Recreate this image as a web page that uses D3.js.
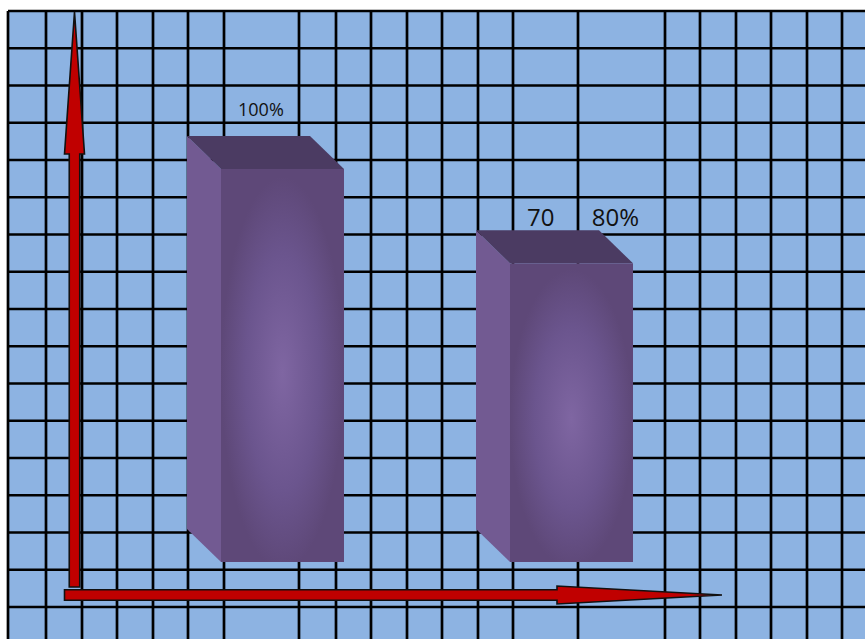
<!DOCTYPE html>
<meta charset="UTF-8">
<style>
body { margin: 0; background: #fff; }
svg { display: block; }
.label { font-family: "Open Sans", sans-serif; fill: #111; white-space: pre; }
</style>
<body>
<script src="https://d3js.org/d3.v7.min.js"></script>
<script>

// chart data
var categories = ["first", "second"];
var values = [100, 76];
var labels = ["100%", "70      80%"];

// label styling (font size and lift above the front top edge)
var labelStyle = [{size: 18, lift: 53}, {size: 24, lift: 37}];

var width = 865, height = 639;

// background grid (decoration only)
var gridLeft = 8, gridTop = 11;
var gridCols = [8, 46, 82, 117, 153, 188, 224, 299, 336, 371, 407, 442, 478, 513, 578, 665, 700, 736, 771, 807, 842];
var gridRows = d3.range(0, 17).map(function(i) { return gridTop + i * 37.25; });

var svg = d3.select("body").append("svg")
    .attr("width", width)
    .attr("height", height);

var defs = svg.append("defs");

// pillow-like shading on the front face
var grad = defs.append("radialGradient")
    .attr("id", "front")
    .attr("cx", "50%").attr("cy", "52%").attr("r", "50%");
grad.append("stop").attr("offset", "0%").attr("stop-color", "#7f66a2");
grad.append("stop").attr("offset", "60%").attr("stop-color", "#6b558e");
grad.append("stop").attr("offset", "100%").attr("stop-color", "#5e4878");

svg.append("rect")
    .attr("x", gridLeft).attr("y", gridTop)
    .attr("width", width - gridLeft).attr("height", height - gridTop)
    .attr("fill", "#8db3e2");

var grid = svg.append("g").attr("stroke", "#000").attr("stroke-width", 2.7);

grid.selectAll("line.v")
    .data(gridCols)
  .enter().append("line")
    .attr("class", "v")
    .attr("x1", function(d) { return d; })
    .attr("x2", function(d) { return d; })
    .attr("y1", gridTop)
    .attr("y2", height);

grid.selectAll("line.h")
    .data(gridRows)
  .enter().append("line")
    .attr("class", "h")
    .attr("x1", gridLeft)
    .attr("x2", width)
    .attr("y1", function(d) { return d; })
    .attr("y2", function(d) { return d; });

// scales
var x = d3.scaleBand()
    .domain(categories)
    .range([221, 633])
    .paddingInner(0.5744)
    .paddingOuter(0);

var y = d3.scaleLinear()
    .domain([0, 100])
    .range([562, 169]);

var depthX = 34, depthY = 33;

var bars = svg.selectAll("g.bar")
    .data(categories)
  .enter().append("g")
    .attr("class", "bar");

// side face
bars.append("path")
    .attr("fill", "#725a92")
    .attr("d", function(d, i) {
      var x0 = x(d), top = y(values[i]), bottom = y(0);
      return "M" + (x0 - depthX) + "," + (top - depthY) +
             "L" + x0 + "," + top +
             "L" + x0 + "," + bottom +
             "L" + (x0 - depthX) + "," + (bottom - depthY) + "Z";
    });

// top face
bars.append("path")
    .attr("fill", "#4b3b62")
    .attr("d", function(d, i) {
      var x0 = x(d), x1 = x0 + x.bandwidth(), top = y(values[i]);
      return "M" + (x0 - depthX) + "," + (top - depthY) +
             "L" + (x1 - depthX) + "," + (top - depthY) +
             "L" + x1 + "," + top +
             "L" + x0 + "," + top + "Z";
    });

// front face
bars.append("rect")
    .attr("x", function(d) { return x(d); })
    .attr("y", function(d, i) { return y(values[i]); })
    .attr("width", x.bandwidth())
    .attr("height", function(d, i) { return y(0) - y(values[i]); })
    .attr("fill", "url(#front)");

// value labels
bars.append("text")
    .attr("class", "label")
    .attr("xml:space", "preserve")
    .attr("x", function(d) { return x(d) + 17; })
    .attr("y", function(d, i) { return y(values[i]) - labelStyle[i].lift; })
    .style("font-size", function(d, i) { return labelStyle[i].size + "px"; })
    .text(function(d, i) { return labels[i]; });

// red arrow axes
function arrow(x1, y1, x2, y2, shaft, head, headLen) {
  var len = Math.hypot(x2 - x1, y2 - y1);
  var a = Math.atan2(y2 - y1, x2 - x1) * 180 / Math.PI;
  var s = shaft / 2, h = head / 2, b = len - headLen;
  var p = "M0," + (-s) + "L" + b + "," + (-s) + "L" + b + "," + (-h) +
          "L" + len + ",0L" + b + "," + h + "L" + b + "," + s + "L0," + s + "Z";
  svg.append("path")
      .attr("d", p)
      .attr("transform", "translate(" + x1 + "," + y1 + ") rotate(" + a + ")")
      .attr("fill", "#c00000")
      .attr("stroke", "#111")
      .attr("stroke-width", 1.6)
      .attr("stroke-linejoin", "miter");
}

arrow(74.5, 587, 74.5, 12, 10.5, 20, 142);
arrow(64.5, 595, 722, 595, 10.5, 18, 165);

</script>
</body>
